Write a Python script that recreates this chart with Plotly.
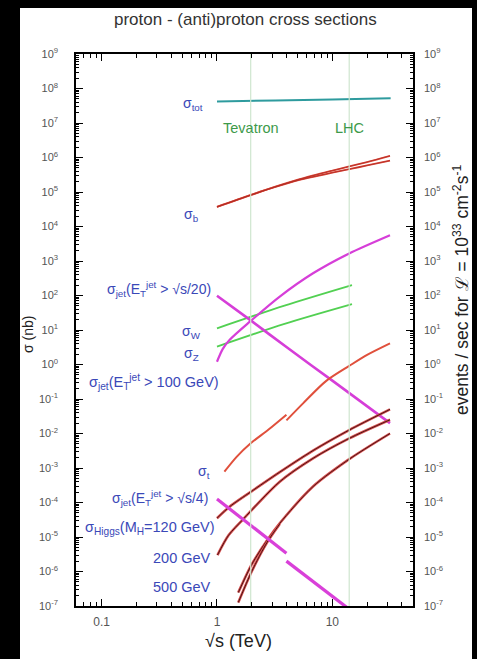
import math
import plotly.graph_objects as go

# ---------------- data (sqrt(s) in TeV, sigma in nb) ----------------
tot_s = [1.0, 3.2, 10.0, 32.0]
tot_sig = [4.2e7, 4.5e7, 4.8e7, 5.2e7]

b_s = [1.0, 1.95, 3.16, 5.2, 10.0, 14.0, 20.0, 31.6]
b_sig_lo = [3.7e4, 8.1e4, 1.38e5, 2.24e5, 3.63e5, 4.57e5, 5.89e5, 8.13e5]
b_sig_hi = [3.7e4, 8.1e4, 1.40e5, 2.35e5, 4.17e5, 5.5e5, 7.4e5, 1.12e6]

jet100_s = [1.0, 1.12, 1.29, 1.95, 3.5, 6.8, 14.0, 31.6]
jet100_sig = [1.2, 2.8, 5.2, 18.0, 93.0, 440.0, 1660.0, 5600.0]

jet20_s = [1.0, 1.96, 4.0, 10.0, 31.6]
jet20_sig = [98.0, 19.0, 3.2, 0.34, 0.02]

w_s = [1.0, 3.85, 14.8]
w_sig = [11.2, 51.0, 200.0]
z_s = [1.0, 3.85, 14.8]
z_sig = [3.3, 15.0, 56.0]

top_s_ppbar = [1.16, 1.48, 1.96, 2.8, 4.0]
top_sig_ppbar = [7.8e-4, 2.1e-3, 5.2e-3, 1.3e-2, 3.5e-2]
top_s_pp = [4.0, 5.6, 8.8, 14.0, 20.0, 31.6]
top_sig_pp = [2.4e-2, 7.6e-2, 0.33, 0.91, 1.9, 4.1]

jet4_s_ppbar = [1.0, 4.0]
jet4_sig_ppbar = [1.26e-4, 3.4e-6]
jet4_s_pp = [4.0, 31.6]
jet4_sig_pp = [2.0e-6, 1.0e-8]

h120_s = [1.0, 1.29, 1.95, 3.5, 6.8, 14.0, 31.6]
h120_sig = [3.5e-5, 7.6e-5, 2.0e-4, 7.6e-4, 3.2e-3, 1.26e-2, 5.0e-2]
h200_s = [1.01, 1.26, 1.69, 3.5, 6.8, 14.0, 31.6]
h200_sig = [3.0e-6, 1.12e-5, 3.3e-5, 4.0e-4, 1.9e-3, 7.2e-3, 2.5e-2]
h500_s = [1.53, 2.0, 2.72, 3.5, 6.8, 14.0, 31.6]
h500_sig = [2.45e-7, 1.6e-6, 8.1e-6, 2.5e-5, 2.9e-4, 1.8e-3, 1.0e-2]
h500b_s = [1.53, 2.0, 2.72, 3.5]
h500b_sig = [1.26e-7, 1.0e-6, 7.0e-6, 2.4e-5]

collider_s = [1.96, 14.0]
collider_names = ["Tevatron", "LHC"]

x_range = [0.06, 50.0]
y_range = [1e-7, 1e9]
x_major = [0.1, 1, 10]
x_major_text = ["0.1", "1", "10"]
y_exps = list(range(-7, 10))

# ---------------- layout geometry ----------------
W, H = 477, 659
L, R, T, B = 76, 413, 54, 606
FONT = "Liberation Sans, Arial, Helvetica, sans-serif"
BLUE = "#3a48b8"


def px(x):
    return (x - L) / (R - L)


def py(y):
    return (B - y) / (B - T)


fig = go.Figure()


def line(xs, ys, color, width, yaxis="y"):
    fig.add_trace(go.Scatter(
        x=xs, y=ys, mode="lines", yaxis=yaxis, hoverinfo="skip",
        line=dict(color=color, width=width, shape="spline", smoothing=0.8),
        showlegend=False))


# collider lines
for s in collider_s:
    line([s, s], y_range, "#cfe6cf", 1.2, yaxis="y2")

# curves
line(tot_s, tot_sig, "#2e9b9e", 2)
line(b_s, b_sig_lo, "#e0483a", 1.8)
line(b_s, b_sig_hi, "#e0483a", 1.8)
line(b_s, b_sig_lo, "#a82a22", 0.7)
line(b_s, b_sig_hi, "#a82a22", 0.7)
line(w_s, w_sig, "#52d052", 1.8)
line(z_s, z_sig, "#52d052", 1.8)
line(jet100_s, jet100_sig, "#d63ed8", 2.2)
line(jet20_s, jet20_sig, "#d63ed8", 2.6)
line(top_s_ppbar, top_sig_ppbar, "#e0503c", 2)
line(top_s_pp, top_sig_pp, "#e0503c", 2)
for xs, ys in [(h120_s, h120_sig), (h200_s, h200_sig), (h500_s, h500_sig),
               (h500b_s, h500b_sig)]:
    line(xs, ys, "#d85050", 2.6)
    line(xs, ys, "#4a1414", 1.0)
line(jet4_s_ppbar, jet4_sig_ppbar, "#d940d9", 3.2)
line(jet4_s_pp, jet4_sig_pp, "#d940d9", 3.2)

# ---------------- axes ----------------
tickfont = dict(family=FONT, size=11, color="#555555")
y_tickvals = [10.0 ** k for k in y_exps]
y_ticktext = ["10<sup>%d</sup>" % k for k in y_exps]
y_minor = [m * 10.0 ** k for k in y_exps[:-1] for m in range(2, 10)]
x_minor = [m * 10.0 ** k for k in range(-2, 2) for m in range(2, 10)
           if x_range[0] < m * 10.0 ** k < x_range[1]]

axis_common = dict(type="log", showgrid=False, zeroline=False, showline=True,
                   linecolor="black", linewidth=1.5, ticks="inside",
                   ticklen=7, tickwidth=1.2, tickcolor="black",
                   tickfont=tickfont)

fig.update_layout(
    width=W, height=H,
    margin=dict(l=L, r=W - R, t=T, b=H - B),
    paper_bgcolor="black", plot_bgcolor="white",
    font=dict(family=FONT),
    xaxis=dict(axis_common, range=[math.log10(x_range[0]), math.log10(x_range[1])],
               tickmode="array", tickvals=x_major, ticktext=x_major_text,
               mirror="ticks", ticklabelstandoff=4,
               tickfont=dict(family=FONT, size=12, color="#555555"),
               minor=dict(tickmode="array", tickvals=x_minor, ticks="inside",
                          ticklen=4, tickcolor="black", tickwidth=1)),
    yaxis=dict(axis_common, range=[math.log10(y_range[0]), math.log10(y_range[1])],
               tickmode="array", tickvals=y_tickvals, ticktext=y_ticktext,
               mirror=True, ticklabelstandoff=14,
               minor=dict(tickmode="array", tickvals=y_minor, ticks="inside",
                          ticklen=3.5, tickcolor="black", tickwidth=1)),
    yaxis2=dict(axis_common, range=[math.log10(y_range[0]), math.log10(y_range[1])],
                overlaying="y", side="right",
                tickmode="array", tickvals=y_tickvals, ticktext=y_ticktext,
                ticklabelstandoff=7,
                minor=dict(tickmode="array", tickvals=y_minor, ticks="inside",
                           ticklen=3.5, tickcolor="black", tickwidth=1)),
)

# white card behind everything
fig.add_shape(type="rect", xref="paper", yref="paper", layer="below",
              x0=px(20), x1=px(472), y0=py(659), y1=py(8),
              fillcolor="white", line=dict(width=0))


def ann(text, x, y, size=14, color=BLUE, xanchor="right", angle=0):
    fig.add_annotation(text=text, x=px(x), y=py(y), xref="paper", yref="paper",
                       showarrow=False, xanchor=xanchor, yanchor="middle",
                       textangle=angle,
                       font=dict(family=FONT, size=size, color=color))


# titles
ann("proton - (anti)proton cross sections", 245, 20, 17, "#333333", "center")
ann("√s (TeV)", 238, 641, 18, "#222222", "center")
ann("σ (nb)", 28, 335, 14, "#222222", "center", -90)
ann("events / sec for ℒ = 10<sup>33</sup> cm<sup>-2</sup>s<sup>-1</sup>",
    461, 290, 17.5, "#222222", "center", -90)

# collider names
for s, name in zip(collider_s, collider_names):
    fig.add_annotation(text=name, x=math.log10(s), y=py(128), xref="x",
                       yref="paper", showarrow=False, xanchor="center",
                       yanchor="middle",
                       font=dict(family=FONT, size=14.5, color="#3d9a4a"))

# curve labels
ann("σ<sub>tot</sub>", 205, 104)
ann("σ<sub>b</sub>", 201, 215)
ann("σ<sub>jet</sub>(E<sub>T</sub><sup>jet</sup> > √s/20)", 213, 289, 14)
ann("σ<sub>W</sub>", 203, 332)
ann("σ<sub>Z</sub>", 201, 354)
ann("σ<sub>jet</sub>(E<sub>T</sub><sup>jet</sup> > 100 GeV)", 221, 382, 14.5)
ann("σ<sub>t</sub>", 212, 472)
ann("σ<sub>jet</sub>(E<sub>T</sub><sup>jet</sup> > √s/4)", 210, 498, 14)
ann("σ<sub>Higgs</sub>(M<sub>H</sub>=120 GeV)", 217, 528, 14.5)
ann("200 GeV", 213, 558, 14.5)
ann("500 GeV", 213, 587, 14.5)

fig.write_html(
    "out.html",
    config={"displayModeBar": False},
    post_script="document.body.style.margin='0';"
                "document.body.style.padding='0';"
                "document.body.style.overflow='hidden';")
